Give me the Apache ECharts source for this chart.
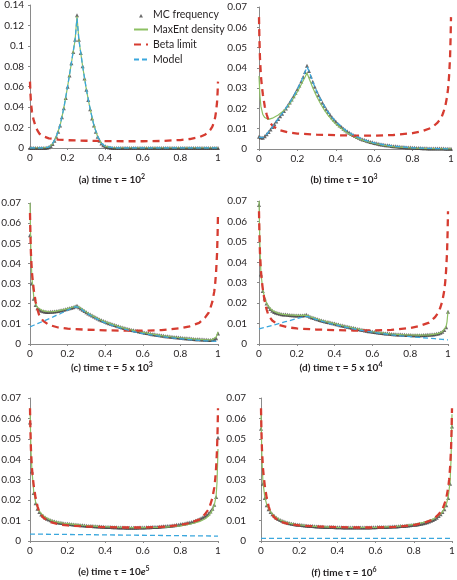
<!DOCTYPE html>
<html><head><meta charset="utf-8">
<script src="https://cdn.jsdelivr.net/npm/echarts@6/dist/echarts.min.js"></script>
<style>html,body{margin:0;padding:0;background:#fff}#c{width:457px;height:580px}</style>
</head><body><div id="c"></div>
<script>
// ---------- data ----------
const xMC = [0,0.01,0.02,0.03,0.04,0.05,0.06,0.07,0.08,0.09,
 0.1,0.11,0.12,0.13,0.14,0.15,0.16,0.17,0.18,0.19,
 0.2,0.21,0.22,0.23,0.24,0.25,0.26,0.27,0.28,0.29,
 0.3,0.31,0.32,0.33,0.34,0.35,0.36,0.37,0.38,0.39,
 0.4,0.41,0.42,0.43,0.44,0.45,0.46,0.47,0.48,0.49,
 0.5,0.51,0.52,0.53,0.54,0.55,0.56,0.57,0.58,0.59,
 0.6,0.61,0.62,0.63,0.64,0.65,0.66,0.67,0.68,0.69,
 0.7,0.71,0.72,0.73,0.74,0.75,0.76,0.77,0.78,0.79,
 0.8,0.81,0.82,0.83,0.84,0.85,0.86,0.87,0.88,0.89,
 0.9,0.91,0.92,0.93,0.94,0.95,0.96,0.97,0.98,0.99,1];

const mcA = [0,0,0,0,0,0,0,0,0.0001,0.0003,
 0.0008,0.002,0.004,0.007,0.011,0.016,0.022,0.03,0.039,0.049,
 0.06,0.071,0.083,0.094,0.106,0.13,0.106,0.093,0.08,0.068,
 0.057,0.047,0.038,0.029,0.022,0.016,0.011,0.007,0.0045,0.0028,
 0.0016,0.0009,0.0005,0.0002,0,0,0,0,0,0,
 0,0,0,0,0,0,0,0,0,0,
 0,0,0,0,0,0,0,0,0,0,
 0,0,0,0,0,0,0,0,0,0,
 0,0,0,0,0,0,0,0,0,0,
 0,0,0,0,0,0,0,0,0,0,0];

const mcB = [0.006,0.0057,0.0055,0.0063,0.0073,0.0084,0.0096,0.0109,0.0122,0.0135,
 0.0148,0.0161,0.0174,0.0187,0.02,0.0214,0.0229,0.0244,0.026,0.0277,
 0.0295,0.0313,0.0333,0.0355,0.038,0.041,0.0385,0.0357,0.0331,0.0307,
 0.0285,0.0265,0.0246,0.0228,0.0212,0.0196,0.0182,0.0169,0.0157,0.0145,
 0.0135,0.0125,0.0116,0.0108,0.01,0.0093,0.0086,0.008,0.0074,0.0069,
 0.0064,0.0059,0.0055,0.0051,0.0047,0.0044,0.0041,0.0038,0.0035,0.0033,
 0.003,0.0028,0.0026,0.0024,0.0022,0.0021,0.0019,0.0018,0.0017,0.0015,
 0.0014,0.0013,0.0012,0.0011,0.001,0.001,0.0009,0.0008,0.0008,0.0007,
 0.0006,0.0006,0.0005,0.0005,0.0005,0.0004,0.0004,0.0004,0.0003,0.0003,
 0.0003,0.0003,0.0002,0.0002,0.0002,0.0002,0.0002,0.0001,0.0001,0.0001,0.0001];

const mcC = [0.054,0.03,0.0225,0.0193,0.0178,0.017,0.0165,0.0162,0.016,0.0159,
 0.0159,0.016,0.016,0.0161,0.0162,0.0164,0.0166,0.0168,0.017,0.0172,
 0.0175,0.0177,0.018,0.0183,0.0186,0.019,0.0183,0.0176,0.017,0.0164,
 0.0158,0.0152,0.0146,0.0141,0.0136,0.0131,0.0127,0.0122,0.0118,0.0114,
 0.011,0.0107,0.0103,0.01,0.0097,0.0094,0.0091,0.0088,0.0085,0.0082,
 0.0079,0.0077,0.0074,0.0072,0.007,0.0068,0.0066,0.0064,0.0062,0.006,
 0.0058,0.0056,0.0054,0.0053,0.0051,0.0049,0.0048,0.0046,0.0045,0.0043,
 0.0042,0.0041,0.0039,0.0038,0.0037,0.0036,0.0035,0.0034,0.0033,0.0032,
 0.0031,0.003,0.0029,0.0028,0.0027,0.0027,0.0026,0.0025,0.0024,0.0024,
 0.0023,0.0022,0.0022,0.0021,0.0021,0.002,0.002,0.0021,0.0023,0.0028,0.0052];

const mcD = [0.068,0.034,0.026,0.0223,0.0198,0.0182,0.0171,0.0163,0.0157,0.0153,
 0.015,0.0148,0.0146,0.0145,0.0144,0.0143,0.0142,0.0141,0.0141,0.014,
 0.014,0.014,0.014,0.014,0.0141,0.0143,0.0138,0.0134,0.013,0.0127,
 0.0124,0.0121,0.0118,0.0115,0.0113,0.011,0.0108,0.0106,0.0104,0.0102,
 0.01,0.0097,0.0095,0.0092,0.009,0.0088,0.0086,0.0084,0.0082,0.008,
 0.0078,0.0076,0.0074,0.0072,0.007,0.0068,0.0066,0.0065,0.0063,0.0062,
 0.006,0.0059,0.0058,0.0056,0.0055,0.0054,0.0053,0.0052,0.0051,0.005,
 0.0049,0.0048,0.0048,0.0047,0.0046,0.0046,0.0045,0.0045,0.0044,0.0044,
 0.0044,0.0043,0.0043,0.0043,0.0043,0.0043,0.0043,0.0044,0.0044,0.0045,
 0.0045,0.0046,0.0047,0.0048,0.005,0.0052,0.0055,0.006,0.0068,0.0082,0.0158];

const mcE = [0.058,0.034,0.0235,0.0185,0.0158,0.0142,0.013,0.0122,0.0115,0.0109,
 0.0105,0.0101,0.0098,0.0095,0.0093,0.0091,0.0089,0.0088,0.0086,0.0085,
 0.0084,0.0083,0.0082,0.0081,0.008,0.0079,0.0078,0.0077,0.0077,0.0076,
 0.0075,0.0074,0.0074,0.0073,0.0072,0.0072,0.0071,0.0071,0.007,0.007,
 0.0069,0.0069,0.0068,0.0068,0.0067,0.0067,0.0067,0.0066,0.0066,0.0066,
 0.0066,0.0065,0.0065,0.0065,0.0065,0.0065,0.0065,0.0065,0.0066,0.0066,
 0.0066,0.0066,0.0067,0.0067,0.0067,0.0068,0.0068,0.0069,0.0069,0.007,
 0.0071,0.0072,0.0072,0.0073,0.0074,0.0075,0.0076,0.0077,0.0079,0.008,
 0.0082,0.0083,0.0085,0.0087,0.0089,0.0091,0.0093,0.0096,0.0099,0.0103,
 0.0107,0.0111,0.0116,0.0121,0.0127,0.0135,0.0145,0.0158,0.0178,0.0215,0.0505];

const mcF = [0.055,0.028,0.021,0.0175,0.0155,0.0142,0.0131,0.0122,0.0114,0.0108,
 0.0103,0.0099,0.0095,0.0092,0.0089,0.0087,0.0085,0.0083,0.0081,0.008,
 0.0079,0.0078,0.0077,0.0076,0.0075,0.0074,0.0073,0.0073,0.0072,0.0071,
 0.0071,0.007,0.007,0.0069,0.0069,0.0069,0.0068,0.0068,0.0068,0.0067,
 0.0067,0.0067,0.0067,0.0066,0.0066,0.0066,0.0066,0.0066,0.0066,0.0066,
 0.0066,0.0066,0.0066,0.0066,0.0066,0.0066,0.0066,0.0066,0.0067,0.0067,
 0.0067,0.0068,0.0068,0.0068,0.0069,0.0069,0.0069,0.007,0.007,0.0071,
 0.0071,0.0071,0.0072,0.0073,0.0073,0.0074,0.0075,0.0076,0.0077,0.0078,
 0.0079,0.008,0.0081,0.0083,0.0085,0.0087,0.0089,0.0092,0.0095,0.0099,
 0.0103,0.0108,0.0114,0.0122,0.0131,0.0142,0.0155,0.0175,0.021,0.028,0.056];

const xLine = [0,0.005,0.01,0.02,0.03,0.04,0.05,0.07,
 0.1,0.12,0.14,0.16,0.18,0.2,0.22,0.24,
 0.25,0.26,0.28,0.3,0.32,0.34,0.36,0.38,
 0.4,0.45,0.5,0.55,0.6,0.65,0.7,0.75,
 0.8,0.85,0.9,0.93,0.95,0.97,0.98,0.99,
 0.995,1];

const maxEntA = [0,0,0,0,0,0,0,0,
 0.0008,0.004,0.011,0.022,0.039,0.06,0.083,0.106,
 0.129,0.106,0.08,0.057,0.038,0.022,0.011,0.0045,
 0.0016,0,0,0,0,0,0,0,
 0,0,0,0,0,0,0,0,
 0,0];
const modelA = [0,0,0,0,0,0,0,0,
 0.0009,0.0042,0.0112,0.0222,0.0392,0.0602,0.0832,0.1062,
 0.127,0.1062,0.0802,0.0572,0.0382,0.0222,0.0112,0.0047,
 0.0017,0,0,0,0,0,0,0,
 0,0,0,0,0,0,0,0,
 0,0];

const maxEntB = [0.036,0.026,0.021,0.017,0.0155,0.0148,0.0146,0.0152,
 0.0168,0.0182,0.0198,0.0222,0.025,0.0282,0.0318,0.0355,
 0.0375,0.035,0.0302,0.026,0.0224,0.0193,0.0166,0.0143,
 0.0123,0.0085,0.0058,0.004,0.0027,0.0018,0.0012,0.0008,
 0.0005,0.0003,0.0002,0.0001,0.0001,0.0001,0.0001,0.0001,
 0.0001,0.0001];
const modelB = [0.0058,0.0056,0.0055,0.0056,0.0063,0.0073,0.0084,0.0109,
 0.0148,0.0174,0.02,0.0229,0.026,0.0295,0.0333,0.038,
 0.0405,0.0385,0.0331,0.0285,0.0246,0.0212,0.0182,0.0157,
 0.0135,0.0093,0.0064,0.0044,0.003,0.0021,0.0014,0.001,
 0.0006,0.0004,0.0003,0.0002,0.0002,0.0001,0.0001,0.0001,
 0.0001,0.0001];

const maxEntC = [0.07,0.045,0.033,0.0235,0.0198,0.0181,0.0172,0.0164,
 0.016,0.0161,0.0163,0.0167,0.0171,0.0176,0.0181,0.0187,
 0.019,0.0184,0.0171,0.0158,0.0146,0.0136,0.0127,0.0118,
 0.011,0.0094,0.0079,0.0068,0.0058,0.0049,0.0042,0.0036,
 0.0031,0.0027,0.0023,0.0021,0.002,0.0022,0.0026,0.0035,
 0.0045,0.006];
const modelC = [0.0085,0.0087,0.0089,0.0093,0.0097,0.0101,0.0105,0.0113,
 0.0125,0.0133,0.0142,0.015,0.0159,0.0168,0.0177,0.0185,
 0.0189,0.0182,0.0168,0.0155,0.0143,0.0132,0.0122,0.0113,
 0.0105,0.0088,0.0074,0.0062,0.0052,0.0044,0.0037,0.0031,
 0.0026,0.0022,0.0018,0.0016,0.0015,0.0014,0.0014,0.0013,
 0.0013,0.0013];

const maxEntD = [0.07,0.048,0.035,0.0265,0.0226,0.02,0.0184,0.0164,
 0.0151,0.0146,0.0144,0.0142,0.0141,0.014,0.014,0.0141,
 0.0143,0.0138,0.013,0.0124,0.0118,0.0113,0.0108,0.0104,
 0.01,0.0088,0.0078,0.0068,0.006,0.0054,0.0049,0.0046,
 0.0044,0.0043,0.0045,0.0048,0.0052,0.006,0.0068,0.0085,
 0.011,0.016];
const modelD = [0.0074,0.0075,0.0076,0.0079,0.0081,0.0084,0.0086,0.0091,
 0.0099,0.0104,0.0109,0.0114,0.0119,0.0124,0.0129,0.0134,
 0.0137,0.0134,0.0127,0.0121,0.0115,0.011,0.0104,0.0099,
 0.0095,0.0084,0.0074,0.0065,0.0058,0.0051,0.0045,0.004,
 0.0036,0.0032,0.0028,0.0026,0.0024,0.0023,0.0022,0.0021,
 0.0021,0.002];

const maxEntE = [0.065,0.045,0.035,0.024,0.019,0.0162,0.0145,0.0124,
 0.0106,0.0099,0.0094,0.009,0.0087,0.0085,0.0083,0.0081,
 0.008,0.0079,0.0077,0.0076,0.0074,0.0073,0.0072,0.0071,
 0.007,0.0068,0.0066,0.0065,0.0065,0.0066,0.0067,0.007,
 0.0074,0.0082,0.0095,0.0108,0.0122,0.015,0.0175,0.022,
 0.029,0.045];
const maxEntF = [0.062,0.04,0.029,0.0215,0.0178,0.0157,0.0143,0.0122,
 0.0103,0.0095,0.0089,0.0085,0.0081,0.0079,0.0077,0.0075,
 0.0074,0.0073,0.0072,0.0071,0.007,0.0069,0.0068,0.0068,
 0.0067,0.0066,0.0066,0.0066,0.0067,0.0069,0.0071,0.0075,
 0.0081,0.0091,0.0106,0.0124,0.0142,0.0178,0.0215,0.029,
 0.04,0.062];

const xFlat = [0, 1];
const modelE = [0.0034, 0.0024];
const modelF = [0.0013, 0.0013];

const xBeta = [0,0.002,0.005,0.01,0.015,0.02,0.03,0.04,0.05,0.07,
 0.1,0.15,0.2,0.3,0.4,0.5,0.6,0.7,0.8,0.85,
 0.9,0.93,0.95,0.96,0.97,0.98,0.985,0.99,0.995,0.998,1];
const betaLimit = [0.065,0.055,0.045,0.036,0.031,0.027,0.021,0.017,0.014,0.0115,
 0.0095,0.0082,0.0076,0.0071,0.0068,0.0066,0.0066,0.0069,0.0078,0.0088,
 0.0105,0.013,0.0155,0.018,0.021,0.026,0.03,0.036,0.045,0.055,0.065];

const seriesNames = ['MC frequency', 'MaxEnt density', 'Beta limit', 'Model'];
const xTicks = [0, 0.2, 0.4, 0.6, 0.8, 1];
const yMaxes = [0.14, 0.07, 0.07, 0.07, 0.07, 0.07];
const yIntervals = [0.02, 0.01, 0.01, 0.01, 0.01, 0.01];
const titleMain = ['(a) time τ = 10', '(b) time τ = 10', '(c) time τ = 5 x 10', '(d) time τ = 5 x 10', '(e) time τ = 10', '(f) time τ = 10'];
const titleItalic = ['', '', '', '', 'e', ''];
const titleSup = ['2', '3', '3', '4', '5', '6'];

const mcSets = [mcA, mcB, mcC, mcD, mcE, mcF];
const maxEntSets = [maxEntA, maxEntB, maxEntC, maxEntD, maxEntE, maxEntF];
const modelSets = [modelA, modelB, modelC, modelD, modelE, modelF];
const modelX = [xLine, xLine, xLine, xLine, xFlat, xFlat];

// ---------- layout ----------
const FONT = 'Lato, "Open Sans", "Noto Sans", sans-serif';
const TXT = '#231f20';
const AX = '#8a8a8a';
const grids = [
  {left: 30, top: 5, width: 188, height: 143},
  {left: 259, top: 7, width: 192, height: 142},
  {left: 30, top: 203, width: 188, height: 141},
  {left: 259, top: 201, width: 189, height: 143},
  {left: 30, top: 398, width: 188, height: 143},
  {left: 261, top: 398, width: 191, height: 143}
];
const yLabelMargin = [6, 12, 9, 12, 9, 15];
const titlePos = [[112, 180], [344, 180], [112, 368], [341, 368], [114, 572], [344, 573]];

const zip = (xs, ys) => xs.map((x, i) => [x, ys[i]]);
const hideSym = {opacity: 0};

const option = {
  animation: false,
  backgroundColor: '#fff',
  textStyle: {fontFamily: FONT},
  grid: grids.map(g => Object.assign({containLabel: false, outerBoundsMode: 'none'}, g)),
  xAxis: grids.map((g, i) => ({
    gridIndex: i, type: 'value', min: 0, max: 1, interval: 0.2,
    axisLine: {show: true, onZero: false, lineStyle: {color: AX, width: 1}},
    axisTick: {show: true, length: 2, lineStyle: {color: AX}},
    axisLabel: {fontSize: 10, color: TXT, margin: 5, fontFamily: FONT,
      formatter: v => { const t = xTicks.find(k => Math.abs(k - v) < 1e-9); return t === undefined ? '' : String(t); }},
    splitLine: {show: false}
  })),
  yAxis: grids.map((g, i) => ({
    gridIndex: i, type: 'value', min: 0, max: yMaxes[i], interval: yIntervals[i],
    axisLine: {show: true, onZero: false, lineStyle: {color: AX, width: 1}},
    axisTick: {show: true, length: 2, lineStyle: {color: AX}},
    axisLabel: {fontSize: 10, color: TXT, margin: yLabelMargin[i], fontFamily: FONT},
    splitLine: {show: false}
  })),
  legend: {
    orient: 'vertical', left: 128, top: 4, itemWidth: 14, itemHeight: 10, itemGap: 4,
    selectedMode: false,
    textStyle: {fontSize: 10.5, color: TXT, fontFamily: FONT},
    data: [
      {name: seriesNames[0], icon: 'path://M0,0M10,10M3,8L7,8L5,4.6Z'},
      {name: seriesNames[1], itemStyle: hideSym},
      {name: seriesNames[2], itemStyle: hideSym},
      {name: seriesNames[3], itemStyle: hideSym}
    ]
  },
  graphic: titlePos.map((p, i) => ({
    type: 'text', x: p[0], y: p[1], silent: true,
    style: {
      text: '{b|' + titleMain[i] + '}' + (titleItalic[i] ? '{i|' + titleItalic[i] + '}' : '') + '{s|' + titleSup[i] + '}',
      align: 'center', verticalAlign: 'middle',
      rich: {
        b: {fontFamily: FONT, fontSize: 10, fontWeight: 'bold', fill: TXT, lineHeight: 13},
        i: {fontFamily: FONT, fontSize: 10, fontWeight: 'bold', fontStyle: 'italic', fill: TXT, lineHeight: 13},
        s: {fontFamily: FONT, fontSize: 7, fontWeight: 'bold', fill: TXT, lineHeight: 8, verticalAlign: 'top'}
      }
    }
  })),
  series: []
};

for (let i = 0; i < 6; i++) {
  option.series.push({
    name: seriesNames[0], type: 'scatter', xAxisIndex: i, yAxisIndex: i,
    symbol: 'triangle', symbolSize: 4, itemStyle: {color: '#444'},
    data: zip(xMC, mcSets[i]), silent: true, z: 2
  });
  option.series.push({
    name: seriesNames[1], type: 'line', xAxisIndex: i, yAxisIndex: i,
    symbol: 'none', showSymbol: false, lineStyle: {color: '#8dc063', width: 1.2},
    itemStyle: {color: '#8dc063'},
    data: zip(xLine, maxEntSets[i]), silent: true, z: 3
  });
  option.series.push({
    name: seriesNames[2], type: 'line', xAxisIndex: i, yAxisIndex: i,
    symbol: 'none', showSymbol: false, lineStyle: {color: '#d63c31', width: 2.3, type: [7, 5]},
    itemStyle: {color: '#d63c31'},
    data: zip(xBeta, betaLimit), silent: true, z: 4
  });
  option.series.push({
    name: seriesNames[3], type: 'line', xAxisIndex: i, yAxisIndex: i,
    symbol: 'none', showSymbol: false, lineStyle: {color: '#3ba7dd', width: 1.3, type: [5, 3]},
    itemStyle: {color: '#3ba7dd'},
    data: zip(modelX[i], modelSets[i]), silent: true, z: 5
  });
}

const chart = echarts.init(document.getElementById('c'), null, {renderer: 'canvas'});
chart.setOption(option);
</script></body></html>
